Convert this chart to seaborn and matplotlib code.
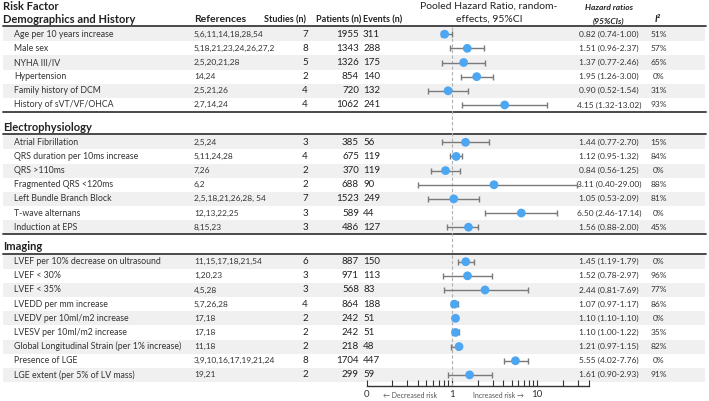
"""
Forest plot: pooled hazard ratios of risk factors (table + log-scale CI plot).
"""
import numpy as np
import pandas as pd
import matplotlib.pyplot as plt
import seaborn as sns

sns.set_theme(style="white")
plt.rcParams["font.family"] = ["Lato", "DejaVu Sans"]

# ── Data ─────────────────────────────────────────────────────
sections = ["Demographics and History", "Electrophysiology", "Imaging"]

demo_factors = ["Age per 10 years increase", "Male sex", "NYHA III/IV", "Hypertension",
                "Family history of DCM", "History of sVT/VF/OHCA"]
demo_refs = ["5,6,11,14,18,28,54", "5,18,21,23,24,26,27,2", "2,5,20,21,28", "14,24",
             "2,5,21,26", "2,7,14,24"]
demo_studies = [7, 8, 5, 2, 4, 4]
demo_patients = [1955, 1343, 1326, 854, 720, 1062]
demo_events = [311, 288, 175, 140, 132, 241]
demo_hr = [0.82, 1.51, 1.37, 1.95, 0.90, 4.15]
demo_lo = [0.74, 0.96, 0.77, 1.26, 0.52, 1.32]
demo_hi = [1.00, 2.37, 2.46, 3.00, 1.54, 13.02]
demo_i2 = [51, 57, 65, 0, 31, 93]

ep_factors = ["Atrial Fibrillation", "QRS duration per 10ms increase", "QRS >110ms",
              "Fragmented QRS <120ms", "Left Bundle Branch Block", "T-wave alternans",
              "Induction at EPS"]
ep_refs = ["2,5,24", "5,11,24,28", "7,26", "6,2", "2,5,18,21,26,28, 54", "12,13,22,25",
           "8,15,23"]
ep_studies = [3, 4, 2, 2, 7, 3, 3]
ep_patients = [385, 675, 370, 688, 1523, 589, 486]
ep_events = [56, 119, 119, 90, 249, 44, 127]
ep_hr = [1.44, 1.12, 0.84, 3.11, 1.05, 6.50, 1.56]
ep_lo = [0.77, 0.95, 0.56, 0.40, 0.53, 2.46, 0.88]
ep_hi = [2.70, 1.32, 1.25, 29.00, 2.09, 17.14, 2.00]
ep_i2 = [15, 84, 0, 88, 81, 0, 45]

img_factors = ["LVEF per 10% decrease on ultrasound", "LVEF < 30%", "LVEF < 35%",
               "LVEDD per mm increase", "LVEDV per 10ml/m2 increase",
               "LVESV per 10ml/m2 increase", "Global Longitudinal Strain (per 1% increase)",
               "Presence of LGE", "LGE extent (per 5% of LV mass)"]
img_refs = ["11,15,17,18,21,54", "1,20,23", "4,5,28", "5,7,26,28", "17,18", "17,18",
            "11,18", "3,9,10,16,17,19,21,24", "19,21"]
img_studies = [6, 3, 3, 4, 2, 2, 2, 8, 2]
img_patients = [887, 971, 568, 864, 242, 242, 218, 1704, 299]
img_events = [150, 113, 83, 188, 51, 51, 48, 447, 59]
img_hr = [1.45, 1.52, 2.44, 1.07, 1.10, 1.10, 1.21, 5.55, 1.61]
img_lo = [1.19, 0.78, 0.81, 0.97, 1.10, 1.00, 0.97, 4.02, 0.90]
img_hi = [1.79, 2.97, 7.69, 1.17, 1.10, 1.22, 1.15, 7.76, 2.93]
img_i2 = [0, 96, 77, 86, 0, 35, 82, 0, 91]

axis_ticks = [0.1, 1, 10]
axis_labels = ["0", "1", "10"]

# ── Layout (pixel units, figure is 709 x 401) ────────────────
W, H = 709, 401
ROW = 14.15
FIRST_ROWS = [34.2, 142.3, 261.7]
STRIPE = "#f0f0f0"
LINE = "#4a4a4a"
DOT = "#4da6f2"
TXT = "#333333"

frames = []
for sec, first, cols in zip(sections, FIRST_ROWS, [
        (demo_factors, demo_refs, demo_studies, demo_patients, demo_events, demo_hr, demo_lo, demo_hi, demo_i2),
        (ep_factors, ep_refs, ep_studies, ep_patients, ep_events, ep_hr, ep_lo, ep_hi, ep_i2),
        (img_factors, img_refs, img_studies, img_patients, img_events, img_hr, img_lo, img_hi, img_i2)]):
    d = pd.DataFrame(dict(zip(["factor", "refs", "studies", "patients", "events",
                               "hr", "lo", "hi", "i2"], cols)))
    d["section"] = sec
    d["y"] = first + np.arange(len(d)) * ROW
    frames.append(d)
df = pd.concat(frames, ignore_index=True)

fig = plt.figure(figsize=(W / 100, H / 100), dpi=100)
ax = fig.add_axes([0, 0, 1, 1])
ax.set_xlim(0, W)
ax.set_ylim(H, 0)
ax.axis("off")

# stripes on alternating rows within each section
for sec, d in df.groupby("section", sort=False):
    for i, y in enumerate(d["y"]):
        if i % 2 == 0:
            ax.add_patch(plt.Rectangle((3, y - ROW / 2), 702, ROW, color=STRIPE, lw=0, zorder=0))

# headers
ax.text(3, 7, "Risk Factor", fontsize=8, fontweight="bold", color="#222", va="center")
ax.text(194, 20, "References", fontsize=7.5, fontweight="bold", color="#222", va="center")
ax.text(306, 20, "Studies (n)", fontsize=6.5, fontweight="bold", color="#222", va="center", ha="right")
ax.text(361, 20, "Patients (n)", fontsize=6.5, fontweight="bold", color="#222", va="center", ha="right")
ax.text(363, 20, "Events (n)", fontsize=6.5, fontweight="bold", color="#222", va="center")
ax.text(489, 6, "Pooled Hazard Ratio, random-", fontsize=7.5, color="#222", va="center", ha="center")
ax.text(489, 19, "effects, 95%CI", fontsize=7.5, color="#222", va="center", ha="center")
ax.text(609, 8, "Hazard ratios", fontsize=6, fontweight="bold", style="italic", color="#222",
        va="center", ha="center")
ax.text(609, 21, "(95%CIs)", fontsize=6, fontweight="bold", style="italic", color="#222",
        va="center", ha="center")
ax.text(658, 19, "I²", fontsize=7, fontweight="bold", style="italic", color="#222",
        va="center", ha="center")

for k, (sec, first) in enumerate(zip(sections, FIRST_ROWS)):
    ax.text(3, first - 15, sec, fontsize=8, fontweight="bold", color="#222", va="center")
    ax.plot([3, 706], [first - 8, first - 8], color=LINE, lw=1.4, zorder=2)
    if k < 2:
        last = df.loc[df["section"] == sec, "y"].max()
        ax.plot([3, 706], [last + 7, last + 7], color=LINE, lw=1.4, zorder=2)

# table body
for _, r in df.iterrows():
    y = r["y"]
    ax.text(14, y, r["factor"], fontsize=6.3, color=TXT, va="center")
    ax.text(194, y, r["refs"], fontsize=6, color=TXT, va="center")
    ax.text(305, y, str(r["studies"]), fontsize=7, color="#222", va="center", ha="center")
    ax.text(359, y, str(r["patients"]), fontsize=7, color="#222", va="center", ha="right")
    ax.text(363, y, str(r["events"]), fontsize=7, color="#222", va="center")
    ax.text(609, y, f"{r['hr']:.2f} ({r['lo']:.2f}-{r['hi']:.2f})", fontsize=6,
            color=TXT, va="center", ha="center")
    ax.text(659, y, f"{r['i2']}%", fontsize=6, color=TXT, va="center", ha="center")

# ── Forest plot on log axis ──────────────────────────────────
X0, X1 = 366.7, 588.6
Y_AX, Y_TOP = 386, 27
fax = fig.add_axes([X0 / W, (H - Y_AX) / H, (X1 - X0) / W, (Y_AX - Y_TOP) / H])
fax.patch.set_alpha(0)
fax.set_xscale("log")
fax.set_xlim(0.1, 40)
fax.set_ylim(Y_AX, Y_TOP)
fax.axvline(1, color="#b0b0b0", lw=0.8, ls=(0, (3, 2)), zorder=1)

fax.hlines(df["y"], df["lo"], df["hi"], color="#7a7a7a", lw=1, zorder=2)
fax.plot(df["lo"], df["y"], "|", color="#7a7a7a", ms=4.5, mew=1, zorder=2)
fax.plot(df["hi"], df["y"], "|", color="#7a7a7a", ms=4.5, mew=1, zorder=2)
sns.scatterplot(data=df, x="hr", y="y", ax=fax, s=40, color=DOT, edgecolor="none",
                zorder=3, legend=False)

for s in ["top", "right", "left"]:
    fax.spines[s].set_visible(False)
fax.spines["bottom"].set_color("#333333")
fax.spines["bottom"].set_linewidth(1)
fax.set_yticks([])
fax.set_xlabel("")
fax.set_ylabel("")
fax.set_xticks(axis_ticks)
fax.set_xticks([v * m for m in [0.1, 1, 10] for v in range(2, 10) if v * m <= 40], minor=True)
fax.set_xticklabels(axis_labels, fontsize=7, color="#333")
fax.xaxis.set_minor_formatter(plt.NullFormatter())
fax.tick_params(axis="x", which="both", direction="in", length=4, width=0.8,
                color="#333333", bottom=True, pad=3)
fax.text(0.32, -0.027, "← Decreased risk", fontsize=5, color="#555",
         transform=fax.get_xaxis_transform(), ha="center", va="center")
fax.text(3.55, -0.027, "Increased risk →", fontsize=5, color="#555",
         transform=fax.get_xaxis_transform(), ha="center", va="center")

fig.savefig("out.png", dpi=100)
